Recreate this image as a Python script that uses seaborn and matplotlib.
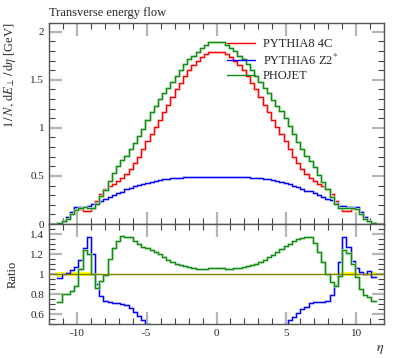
import numpy as np
import pandas as pd
import matplotlib
matplotlib.use("Agg")
import matplotlib.pyplot as plt
from matplotlib.lines import Line2D
from matplotlib.ticker import MultipleLocator, FixedLocator
import seaborn as sns

# bin edges in eta (76 bins of 0.3)
eta_lo = -11.4
eta_width = 0.3
n_bins = 76

# PYTHIA8 4C
p8 = [0.012, 0.035, 0.07, 0.12, 0.165, 0.155, 0.14, 0.135, 0.17, 0.24,
      0.31, 0.36, 0.39, 0.42, 0.45, 0.48, 0.52, 0.57, 0.63, 0.70,
      0.78, 0.86, 0.94, 1.01, 1.08, 1.16, 1.24, 1.32, 1.40, 1.47,
      1.54, 1.60, 1.65, 1.70, 1.74, 1.77, 1.79, 1.79,
      1.79, 1.79, 1.77, 1.74, 1.70, 1.65, 1.60, 1.54, 1.47, 1.40,
      1.32, 1.24, 1.16, 1.08, 1.01, 0.94, 0.86, 0.78, 0.70, 0.63,
      0.57, 0.52, 0.48, 0.45, 0.42, 0.39, 0.36, 0.31, 0.24, 0.17,
      0.135, 0.14, 0.155, 0.165, 0.12, 0.07, 0.035, 0.012]

# PYTHIA6 Z2*
p6 = [0.0115, 0.035, 0.071, 0.125, 0.177, 0.177, 0.176, 0.185, 0.204, 0.216,
      0.242, 0.263, 0.281, 0.298, 0.320, 0.336, 0.359, 0.376, 0.391, 0.406,
      0.421, 0.430, 0.440, 0.450, 0.458, 0.465, 0.471, 0.476, 0.480, 0.483,
      0.486, 0.488, 0.489, 0.490, 0.491, 0.491, 0.492, 0.492,
      0.492, 0.492, 0.491, 0.491, 0.490, 0.489, 0.488, 0.486, 0.483, 0.480,
      0.476, 0.471, 0.464, 0.457, 0.449, 0.440, 0.430, 0.418, 0.400, 0.385,
      0.368, 0.348, 0.340, 0.324, 0.302, 0.281, 0.263, 0.245, 0.214, 0.190,
      0.185, 0.178, 0.175, 0.175, 0.122, 0.070, 0.036, 0.0117]

# PHOJET
phojet = [0.0086, 0.028, 0.056, 0.100, 0.145, 0.163, 0.174, 0.162, 0.170, 0.206,
          0.288, 0.356, 0.449, 0.529, 0.599, 0.662, 0.712, 0.781, 0.838, 0.910,
          0.991, 1.084, 1.166, 1.232, 1.296, 1.357, 1.414, 1.478, 1.540, 1.602,
          1.663, 1.712, 1.749, 1.785, 1.827, 1.859, 1.897, 1.897,
          1.897, 1.895, 1.860, 1.826, 1.800, 1.750, 1.712, 1.663, 1.602, 1.540,
          1.478, 1.414, 1.357, 1.285, 1.232, 1.175, 1.101, 1.014, 0.931, 0.851,
          0.775, 0.712, 0.658, 0.590, 0.512, 0.437, 0.360, 0.285, 0.211, 0.167,
          0.167, 0.169, 0.171, 0.160, 0.102, 0.055, 0.027, 0.0088]

# relative stat. uncertainty of the reference (PYTHIA8 4C), shown as band in ratio
p8_relerr = [0.025, 0.022, 0.02, 0.02, 0.02, 0.02, 0.018, 0.018, 0.008, 0.006,
             0.004, 0.004, 0.003, 0.003, 0.003, 0.003, 0.003, 0.003, 0.003, 0.003,
             0.003, 0.003, 0.003, 0.003, 0.003, 0.003, 0.003, 0.003, 0.003, 0.003,
             0.003, 0.003, 0.003, 0.003, 0.003, 0.003, 0.003, 0.003,
             0.003, 0.003, 0.003, 0.003, 0.003, 0.003, 0.003, 0.003, 0.003, 0.003,
             0.003, 0.003, 0.003, 0.003, 0.003, 0.003, 0.003, 0.003, 0.003, 0.003,
             0.003, 0.003, 0.003, 0.003, 0.003, 0.003, 0.004, 0.004, 0.006, 0.018,
             0.02, 0.02, 0.02, 0.018, 0.012, 0.012, 0.015, 0.02]

labels = ["PYTHIA8 4C", "PYTHIA6 Z2$^{*}$", "PHOJET"]
colors = ["#ff0000", "#0000ff", "#148a14"]
halos = ["#ffb0b0", "#b0b0ff", "#a0d8a0"]

edges = eta_lo + eta_width * np.arange(n_bins + 1)


def step_frame(vals):
    v = np.asarray(vals, dtype=float)
    return pd.DataFrame({"eta": edges, "val": np.append(v, v[-1])})


sns.set_style("ticks")
plt.rcParams["font.family"] = ["Liberation Serif", "DejaVu Serif"]
plt.rcParams["mathtext.fontset"] = "stix"

fig = plt.figure(figsize=(3.97, 3.58), dpi=100)
ax = fig.add_axes([49 / 397, 1 - 224 / 358, 335 / 397, 201 / 358])
axr = fig.add_axes([49 / 397, 1 - 324 / 358, 335 / 397, 100 / 358], sharex=ax)

series = [p8, p6, phojet]
ref = np.asarray(p8)

# main panel
for vals, c, h in zip(series, colors, halos):
    df = step_frame(vals)
    sns.lineplot(data=df, x="eta", y="val", ax=ax, color=h, lw=1.9,
                 drawstyle="steps-post", estimator=None, sort=False, legend=False)
    sns.lineplot(data=df, x="eta", y="val", ax=ax, color=c, lw=0.8,
                 drawstyle="steps-post", estimator=None, sort=False, legend=False)

# ratio panel
err = np.asarray(p8_relerr)
axr.fill_between(edges, np.append(1 - err, 1 - err[-1]), np.append(1 + err, 1 + err[-1]),
                 step="post", color="#ffff00", lw=0)
axr.axhline(1.0, color="#808000", lw=1.0, zorder=3)
for vals, c, h in zip(series[1:], colors[1:], halos[1:]):
    df = step_frame(np.asarray(vals) / ref)
    sns.lineplot(data=df, x="eta", y="val", ax=axr, color=h, lw=1.9,
                 drawstyle="steps-post", estimator=None, sort=False, legend=False)
    sns.lineplot(data=df, x="eta", y="val", ax=axr, color=c, lw=0.8,
                 drawstyle="steps-post", estimator=None, sort=False, legend=False)

ax.set_xlim(-12, 12)
ax.set_ylim(0, 2.09)
axr.set_ylim(0.5, 1.5)

for a in (ax, axr):
    for s in a.spines.values():
        s.set_visible(True)
        s.set_color("#555555")
        s.set_linewidth(1.0)
    a.xaxis.set_major_locator(MultipleLocator(5))
    a.xaxis.set_minor_locator(MultipleLocator(1))
    a.tick_params(which="both", direction="in", top=True, right=True, labelsize=8)
    a.tick_params(which="major", length=9, width=1.6, color="#b5b5b5")
    a.tick_params(which="minor", length=4.5, width=0.8, color="#444444")
    a.set_xlabel("")
    a.set_ylabel("")

ax.yaxis.set_major_locator(MultipleLocator(0.5))
ax.yaxis.set_minor_locator(MultipleLocator(0.1))
ax.yaxis.set_major_formatter(plt.FuncFormatter(lambda v, p: f"{v:g}"))
ax.tick_params(labelbottom=False)

axr.yaxis.set_major_locator(FixedLocator([0.6, 0.8, 1.0, 1.2, 1.4]))
axr.yaxis.set_minor_locator(MultipleLocator(0.05))
axr.yaxis.set_major_formatter(plt.FuncFormatter(lambda v, p: f"{v:g}"))
axr.xaxis.set_major_formatter(plt.FuncFormatter(lambda v, p: f"{v:g}"))

ax.set_ylabel(r"$1\,/\,N,\,\mathrm{d}E_{\perp}\,/\,\mathrm{d}\eta$ [GeV]", loc="top", fontsize=9)
ax.yaxis.set_label_coords(-0.092, 1.0)
axr.set_ylabel("Ratio", fontsize=9)
axr.yaxis.set_label_coords(-0.092, 0.5)
axr.set_xlabel(r"$\eta$", loc="right", fontsize=10)

fig.text(49 / 397, 1 - 13 / 358, "Transverse energy flow", fontsize=9, va="center", ha="left")

handles = [Line2D([], [], color=c, lw=1.0) for c in colors]
ax.legend(handles, labels, loc="upper left", bbox_to_anchor=(0.53, 0.925),
          frameon=False, fontsize=9, handlelength=2.3, handletextpad=0.6,
          labelspacing=0.2, borderpad=0, borderaxespad=0)

fig.savefig("out.png", dpi=100)
